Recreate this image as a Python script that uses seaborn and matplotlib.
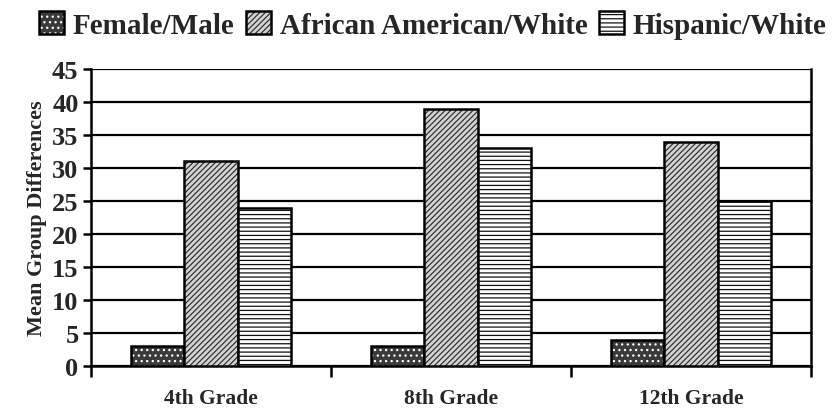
import pandas as pd
import matplotlib.pyplot as plt
import seaborn as sns
from matplotlib.colors import to_rgba

# data
grades = ["4th Grade", "8th Grade", "12th Grade"]
groups = ["Female/Male", "African American/White", "Hispanic/White"]
female_male = [3, 3, 4]
african_american_white = [31, 39, 34]
hispanic_white = [24, 33, 25]

df = pd.DataFrame({
    "grade": grades * 3,
    "group": [groups[0]] * 3 + [groups[1]] * 3 + [groups[2]] * 3,
    "value": female_male + african_american_white + hispanic_white,
})

sns.set_style("white")
plt.rcParams["font.family"] = ["Liberation Serif", "DejaVu Serif"]
plt.rcParams["font.weight"] = "bold"
plt.rcParams["hatch.linewidth"] = 0.9

fig = plt.figure(figsize=(8.36, 4.10), dpi=100)
ax = fig.add_axes([0.109, 0.105, 0.861, 0.724])

faces = ["#3a3a3a", "#d4d4d4", "#ffffff"]
hatches = ["...", "//////", "----"]
hatch_cols = ["#ffffff", "#333333", "#111111"]

sns.barplot(data=df, x="grade", y="value", hue="group", order=grades,
            hue_order=groups, palette=faces, width=0.667, saturation=1,
            edgecolor="black", linewidth=1.8, legend=False, ax=ax, zorder=3)

for cont, h, hc in zip(ax.containers, hatches, hatch_cols):
    for p in cont:
        p.set_hatch(h)
        p._hatch_color = to_rgba(hc)

ax.set_ylim(0, 45)
ax.set_xlim(-0.5, 2.5)
ax.set_yticks(range(0, 46, 5))
ax.yaxis.grid(True, color="black", linewidth=1.6, zorder=0)
ax.set_axisbelow(True)

# boundary ticks between grades, labels at centers
ax.set_xticks([-0.5, 0.5, 1.5, 2.5])
ax.set_xticklabels([])
ax.set_xticks([0, 1, 2], minor=True)
ax.set_xticklabels(grades, minor=True, fontsize=15.5, fontweight="bold")
ax.tick_params(axis="x", which="minor", length=0, pad=16)
ax.tick_params(axis="x", which="major", length=8, width=1.8, color="black", direction="out", bottom=True)
ax.tick_params(axis="y", length=6, width=1.8, color="black", direction="out", left=True,
               labelsize=19, pad=3)
for lab in ax.get_yticklabels():
    lab.set_fontweight("bold")

for s in ["left", "bottom", "right"]:
    ax.spines[s].set_visible(True)
    ax.spines[s].set_color("black")
    ax.spines[s].set_linewidth(1.8)
ax.spines["top"].set_visible(False)

ax.set_xlabel("")
ax.set_ylabel("Mean Group Differences", fontsize=16, fontweight="bold", labelpad=4)

handles = [c[0] for c in ax.containers]
fig.legend(handles, groups, loc="upper center", bbox_to_anchor=(0.518, 1.035), ncol=3,
           frameon=False, prop={"size": 21, "weight": "bold"},
           handlelength=0.85, handleheight=0.85, handletextpad=0.3, columnspacing=0.4)

fig.savefig("out.png", dpi=100)
